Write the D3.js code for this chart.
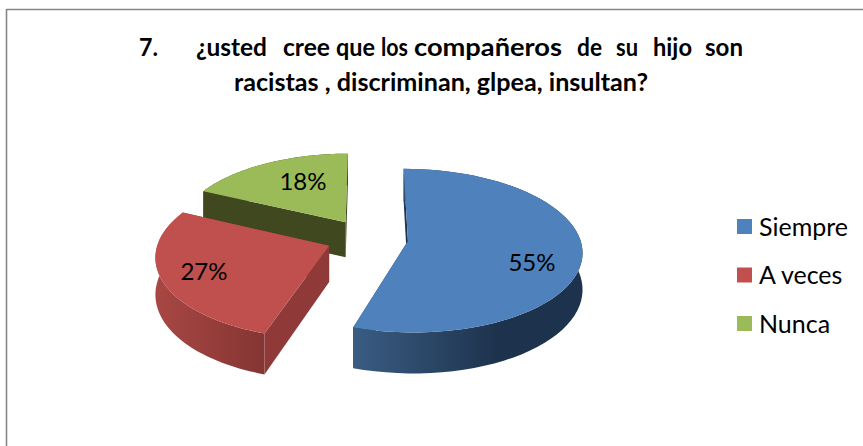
<!DOCTYPE html>
<html><head><meta charset="utf-8">
<script src="https://cdnjs.cloudflare.com/ajax/libs/d3/7.8.5/d3.min.js"></script>
<style>html,body{margin:0;padding:0;background:#fff}svg{display:block}text{font-family:Lato,"Open Sans",sans-serif;fill:#000}</style>
</head><body><svg id="c" width="863" height="446"></svg>
<script>
const categories = ["Siempre", "A veces", "Nunca"];
const values = [55, 27, 18];
const labels = ["55%", "27%", "18%"];
const colors = ["#4f81bd", "#c0504d", "#9bbb59"];
const radialWall = ["#1f344f", "#8f3a38", "#40481f"];
const rimLeft = ["#3a5d84", "#a84744", "#40481f"];
const rimRight = ["#1d324c", "#853533", "#40481f"];
const titleWords = ["7.", "¿usted", "cree", "que", "los", "compañeros", "de", "su", "hijo", "son"];
const titleLine2 = "racistas , discriminan, glpea, insultan?";

// layout of the justified first title line
const wordStart = [139, 196, 283, 336, 381, 414, 577, 616, 653, 705];
const wordEnd = [158, 267, 330, 375, 408, 562, 602, 638, 692, 743];

const svg = d3.select("#c");
const cx = 367, cy = 238, FR = 172, FL = 170, K = 80, persp = 0.117, depth = 36, explode = 0.24;
const sx = d3.scaleLinear().domain([-1, 0, 1]).range([-FL, 0, FR]);
const sy = d3.scaleLinear().domain([0, 1]).range([0, K]);
function project(X, Y, drop) {
  const s = 1 / (1 - persp * Y);
  return [cx + sx(X) * s, cy + sy(Y) * s + (drop || 0) * s];
}
const pie = d3.pie().sort(null).value(d => d)(values);
const line = d3.line().curve(d3.curveLinear);
const defs = svg.append("defs");

// frame
svg.append("line").attr("x1", 6.5).attr("y1", 9.5).attr("x2", 863).attr("y2", 9.5).attr("stroke", "#868686").attr("stroke-width", 1.6);
svg.append("line").attr("x1", 6.5).attr("y1", 9).attr("x2", 6.5).attr("y2", 446).attr("stroke", "#868686").attr("stroke-width", 1.6);

// title
titleWords.forEach((w, i) => svg.append("text").attr("x", wordStart[i]).attr("y", 56)
  .attr("font-size", 24).attr("font-weight", 700)
  .attr("textLength", wordEnd[i] - wordStart[i]).attr("lengthAdjust", "spacingAndGlyphs").text(w));
svg.append("text").attr("x", 234).attr("y", 91).attr("font-size", 24).attr("font-weight", 700)
  .attr("textLength", 414).attr("lengthAdjust", "spacingAndGlyphs").text(titleLine2);

// slices painted back to front
[2, 1, 0].forEach(i => {
  const d = pie[i];
  const mid = (d.startAngle + d.endAngle) / 2;
  const ox = Math.sin(mid) * explode, oy = -Math.cos(mid) * explode;
  const steps = d3.range(0, 61).map(k => d.startAngle + (d.endAngle - d.startAngle) * k / 60);
  const rimW = steps.map(a => [ox + Math.sin(a), oy - Math.cos(a)]);
  const top = rimW.map(p => project(p[0], p[1]));
  const low = rimW.map(p => project(p[0], p[1], depth));
  const apexT = project(ox, oy), apexB = project(ox, oy, depth);
  const g = svg.append("g");
  // radial walls
  g.append("path").attr("d", line([apexT, top[0], low[0], apexB]) + "Z").attr("fill", radialWall[i]);
  g.append("path").attr("d", line([apexT, top[60], low[60], apexB]) + "Z").attr("fill", radialWall[i]);
  // rim with a horizontal shade
  const id = "rim" + i;
  const xs = d3.extent(low, p => p[0]);
  const gr = defs.append("linearGradient").attr("id", id).attr("gradientUnits", "userSpaceOnUse")
    .attr("x1", i === 0 ? 352 : xs[0]).attr("x2", i === 0 ? 500 : xs[1]).attr("y1", 0).attr("y2", 0);
  gr.append("stop").attr("offset", 0).attr("stop-color", rimLeft[i]);
  gr.append("stop").attr("offset", 1).attr("stop-color", rimRight[i]);
  g.append("path").attr("d", line(top.concat(low.slice().reverse())) + "Z").attr("fill", `url(#${id})`);
  // top surface
  g.append("path").attr("d", line([apexT].concat(top)) + "Z").attr("fill", colors[i]);
});

// value labels
const labelPos = [[532, 262], [204, 271], [303, 181]];
labels.forEach((t, i) => svg.append("text").attr("x", labelPos[i][0]).attr("y", labelPos[i][1] + 8.5)
  .attr("text-anchor", "middle").attr("font-size", 24).text(t));

// legend
const ly = d3.scalePoint().domain(categories).range([226.5, 323.5]);
categories.forEach((c, i) => {
  svg.append("rect").attr("x", 737).attr("y", ly(c) - 7.5).attr("width", 15).attr("height", 15).attr("fill", colors[i]);
  svg.append("text").attr("x", 759).attr("y", ly(c) + 9).attr("font-size", 25).text(c);
});
</script></body></html>
